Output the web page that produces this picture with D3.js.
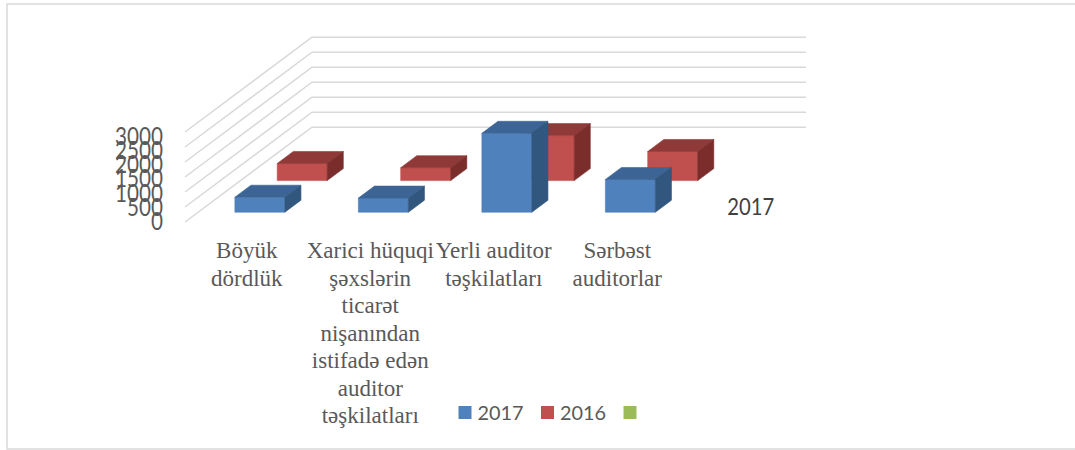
<!DOCTYPE html>
<html>
<head>
<meta charset="utf-8">
<script src="https://cdn.jsdelivr.net/npm/d3@7"></script>
<style>
    body { margin: 0; background: #fff; }
</style>
</head>
<body>
<div id="chart"></div>
<script>
// data
const categories = [
    "Böyük\ndördlük",
    "Xarici hüquqi\nşəxslərin\nticarət\nnişanından\nistifadə edən\nauditor\ntəşkilatları",
    "Yerli auditor\ntəşkilatları",
    "Sərbəst\nauditorlar"
];
const seriesNames = ["2017", "2016", ""];
const values2017 = [500, 470, 2630, 1090];
const values2016 = [570, 430, 1500, 970];
const valuesEmpty = [null, null, null, null];
const yTicks = [0, 500, 1000, 1500, 2000, 2500, 3000];

const seriesValues = [values2017, values2016, valuesEmpty];
const colors = [
    {front: "#4f81bd", top: "#3c6595", side: "#32577f"},
    {front: "#c0504d", top: "#8f3a38", side: "#7a2d2b"},
    {front: "#9bbb59", top: "#7a9446", side: "#667b3a"}
];

const width = 1075, height = 450;

const svg = d3.select("#chart")
    .append("svg")
    .attr("width", width)
    .attr("height", height);

// chart border
svg.append("rect")
    .attr("x", 7).attr("y", 4)
    .attr("width", 1085).attr("height", 445)
    .attr("fill", "none")
    .attr("stroke", "#d9d9d9")
    .attr("stroke-width", 1.5);

// 3d floor: front edge and how far one series row shifts the picture
const floorLeft = 185, floorRight = 679, floorY = 222;
const rowDx = 42.33, rowDy = -31.6;
const nRows = seriesNames.length;

const x = d3.scaleBand()
    .domain(d3.range(categories.length))
    .range([floorLeft, floorRight])
    .paddingInner(0.595)
    .paddingOuter(0.2975);

const xLabel = d3.scaleBand()
    .domain(d3.range(categories.length))
    .range([floorLeft, floorRight]);

const y = d3.scaleLinear()
    .domain([0, 3000])
    .range([0, 90]);

function proj(px, depth, v) {
    return [px + depth * rowDx, floorY + depth * rowDy - y(v)];
}

// gridlines on side wall + back wall
const line = d3.line();
svg.append("g")
    .selectAll("path")
    .data(yTicks)
    .enter()
    .append("path")
    .attr("d", t => line([proj(floorLeft, 0, t), proj(floorLeft, nRows, t), proj(floorRight, nRows, t)]))
    .attr("fill", "none")
    .attr("stroke", "#d9d9d9")
    .attr("stroke-width", 1.5);

// value axis labels
svg.append("g")
    .selectAll("text")
    .data(yTicks)
    .enter()
    .append("text")
    .attr("x", 163)
    .attr("y", t => floorY - 2 - y(t) * 0.95)
    .attr("text-anchor", "end")
    .attr("dominant-baseline", "central")
    .attr("font-family", "Lato, 'Open Sans', sans-serif")
    .attr("font-size", "25px")
    .attr("fill", "#595959")
    .attr("textLength", t => String(t).length * 12)
    .attr("lengthAdjust", "spacingAndGlyphs")
    .text(t => t);

// bars, back row first
const bars = svg.append("g");
[2, 1, 0].forEach(r => {
    const c = colors[r];
    const d0 = r + 0.31, d1 = r + 0.69;
    seriesValues[r].forEach((v, i) => {
        if (v == null) return;
        const x0 = x(i), x1 = x(i) + x.bandwidth();
        const faces = [
            {pts: [proj(x0, d0, 0), proj(x1, d0, 0), proj(x1, d0, v), proj(x0, d0, v)], fill: c.front},
            {pts: [proj(x0, d0, v), proj(x1, d0, v), proj(x1, d1, v), proj(x0, d1, v)], fill: c.top},
            {pts: [proj(x1, d0, 0), proj(x1, d1, 0), proj(x1, d1, v), proj(x1, d0, v)], fill: c.side}
        ];
        faces.forEach(f => {
            bars.append("path")
                .attr("d", line(f.pts) + "Z")
                .attr("fill", f.fill)
                .attr("stroke", f.fill)
                .attr("stroke-width", 0.6)
                .attr("stroke-linejoin", "round");
        });
    });
});

// category labels
const catText = svg.append("g")
    .selectAll("text")
    .data(categories)
    .enter()
    .append("text")
    .attr("text-anchor", "middle")
    .attr("font-family", "'Liberation Serif', 'Times New Roman', serif")
    .attr("font-size", "23px")
    .attr("fill", "#595959");

catText.each(function(d, i) {
    const cx = xLabel(i) + xLabel.bandwidth() / 2;
    d3.select(this).selectAll("tspan")
        .data(d.split("\n"))
        .enter()
        .append("tspan")
        .attr("x", cx)
        .attr("y", (s, j) => 258 + j * 27.5)
        .text(s => s);
});

// series (depth) axis label, only the first one shows
const sp = proj(floorRight, 0.5, 0);
svg.append("text")
    .attr("x", sp[0] + 27)
    .attr("y", sp[1] + 9)
    .attr("font-family", "Lato, 'Open Sans', sans-serif")
    .attr("font-size", "23px")
    .attr("fill", "#404040")
    .attr("textLength", 47)
    .attr("lengthAdjust", "spacingAndGlyphs")
    .text(seriesNames[0]);

// legend
const legendX = [458.5, 541, 623.5];
const legend = svg.append("g");
legend.selectAll("rect")
    .data(seriesNames)
    .enter()
    .append("rect")
    .attr("x", (d, i) => legendX[i])
    .attr("y", 406)
    .attr("width", 13)
    .attr("height", 13)
    .attr("fill", (d, i) => colors[i].front);

legend.selectAll("text")
    .data(seriesNames.filter(s => s !== ""))
    .enter()
    .append("text")
    .attr("x", (d, i) => legendX[i] + 19)
    .attr("y", 419.5)
    .attr("font-family", "Lato, 'Open Sans', sans-serif")
    .attr("font-size", "20px")
    .attr("fill", "#595959")
    .attr("textLength", 46)
    .attr("lengthAdjust", "spacingAndGlyphs")
    .text(d => d);
</script>
</body>
</html>
